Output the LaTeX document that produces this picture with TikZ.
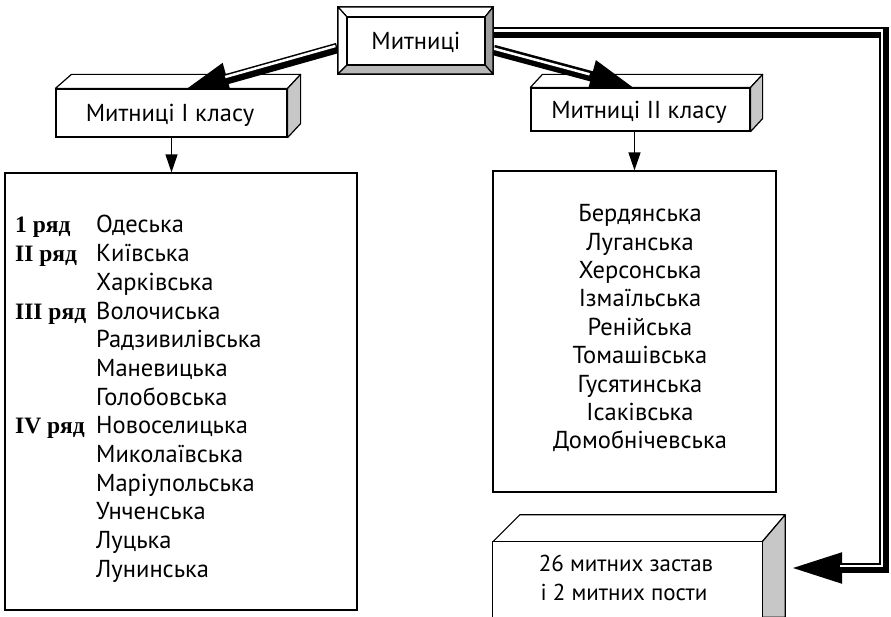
\documentclass[tikz,border=0pt]{standalone}
\usepackage{fontspec}
\setmainfont{PT Sans}
\newfontfamily\lblserif{Liberation Serif}
\usetikzlibrary{arrows.meta,calc}
\pgfdeclarelayer{background}
\pgfdeclarelayer{paper}
\pgfsetlayers{paper,background,main}
\newcommand\txtsz{\fontsize{24.5}{28}\selectfont}
\newcommand\zsz{\fontsize{23}{28}\selectfont}
\newcommand\lblsz{\fontsize{23.5}{28}\selectfont}
\tikzset{
  box/.style={draw, line width=1.2pt, fill=white, inner sep=0pt},
  face/.style={draw, line width=1.2pt, line join=round},
  lbl/.style={font=\txtsz, inner sep=0pt, anchor=base},
  zlbl/.style={font=\zsz, inner sep=0pt, anchor=base},
  rowlbl/.style={font=\lblsz\lblserif\bfseries, inner sep=0pt, anchor=base west},
  rowname/.style={font=\txtsz, inner sep=0pt, anchor=base west},
  thinarrow/.style={line width=1.3pt, -{Triangle[length=18pt,width=12pt]}},
  fat/.style={line width=10.5pt},
  stripe/.style={line width=2.5pt, white, transform canvas={shift={(-2pt,2pt)}}},
}
\begin{document}
\begin{tikzpicture}[x=1pt,y=-1pt]
\useasboundingbox (0,0) rectangle (891,617);
\begin{pgfonlayer}{paper}
\fill[white] (0,0) rectangle (891,617);
\end{pgfonlayer}

% top bevelled box
\node[box, minimum width=155pt, minimum height=67pt] (m) at (415.5,40.5) {};
\filldraw[face, fill=white] (338,7) -- (493,7) -- (485,17) -- (347,17) -- cycle;
\filldraw[face, fill=white] (338,7) -- (347,17) -- (347,65) -- (338,74) -- cycle;
\filldraw[face, fill=black!38] (493,7) -- (485,17) -- (485,65) -- (493,74) -- cycle;
\filldraw[face, fill=black!28] (338,74) -- (347,65) -- (485,65) -- (493,74) -- cycle;
\draw[line width=1.2pt] (347,17) rectangle (485,65);
\node[lbl] (mt) at (416,50) {Митниці};

% class boxes
\node[box, minimum width=231pt, minimum height=48pt] (c1) at (171.5,113) {};
\node[lbl] (c1t) at (170,122) {Митниці І класу};
\node[box, minimum width=219pt, minimum height=43pt] (c2) at (640.5,109.5) {};
\node[lbl] (c2t) at (639,118.5) {Митниці ІІ класу};

% list boxes
\node[box, minimum width=352pt, minimum height=437pt] (l1) at (181,391.5) {};
\node[box, minimum width=283pt, minimum height=321pt] (l2) at (634.5,331.5) {};

% bottom box (cut by the page edge)
\node[fill=white, inner sep=0pt, minimum width=269pt, minimum height=75pt] (z) at (627.5,579.5) {};
\draw[line width=1.2pt] (z.south west) -- (z.north west) -- (z.north east) -- (z.south east);
\node[zlbl] (zt1) at (626,571.5) {26 митних застав};
\node[zlbl] (zt2) at (624,600) {і 2 митних пости};

% list texts
\foreach \a/\b [count=\i] in {{1 ряд}/Одеська,{II ряд}/Київська,/Харківська,{III ряд}/Волочиська,/Радзивилівська,/Маневицька,/Голобовська,{IV ряд}/Новоселицька,/Миколаївська,/Маріупольська,/Унченська,/Луцька,/Лунинська}{
  \node[rowlbl] (ra\i) at (15,{233+(\i-1)*28.67}) {\a};
  \node[rowname] (rb\i) at (96,{233+(\i-1)*28.67}) {\b};
}
\foreach \b [count=\i] in {Бердянська,Луганська,Херсонська,Ізмаїльська,Ренійська,Томашівська,Гусятинська,Ісаківська,Домобнічевська}{
  \node[lbl] (s\i) at (640,{221.7+(\i-1)*28.4}) {\b};
}

% thin arrows
\draw[thinarrow] (c1.south) -- (c1.south |- l1.north);
\draw[thinarrow] (c2.south -| l2.north) -- (l2.north);

\coordinate (t1) at (181,92);
\coordinate (t2) at (635,88);
\coordinate (cr1) at (884,32.5);
\coordinate (cr2) at (884,568);
\coordinate (zt) at (790,568);

\begin{pgfonlayer}{background}
  % 3D faces
  \filldraw[face, fill=white] (c1.north west) -- ++(16,-14) -- ($(c1.north east)+(13,-14)$) -- (c1.north east) -- cycle;
  \filldraw[face, fill=black!22] (c1.north east) -- ++(13,-14) -- ($(c1.south east)+(13,-14)$) -- (c1.south east) -- cycle;
  \filldraw[face, fill=white] (c2.north west) -- ++(12,-13) -- ($(c2.north east)+(12,-13)$) -- (c2.north east) -- cycle;
  \filldraw[face, fill=black!22] (c2.north east) -- ++(12,-13) -- ($(c2.south east)+(12,-13)$) -- (c2.south east) -- cycle;
  \filldraw[face, fill=white] (z.north west) -- ++(27,-27) -- ($(z.north east)+(23,-27)$) -- (z.north east) -- cycle;
  \filldraw[face, fill=black!22] (z.north east) -- ++(23,-27) -- ($(z.south east)+(23,0)$) -- (z.south east) -- cycle;
  % fat arrows
  \draw[fat, -{Triangle[length=48pt,width=30pt]}] ([yshift=-7.5pt]m.west) -- (t1);
  \draw[stripe, shorten >=48pt] ([yshift=-7.5pt]m.west) -- (t1);
  \draw[fat, -{Triangle[length=45pt,width=30pt]}] ([yshift=-9.5pt]m.east) -- (t2);
  \draw[stripe, shorten >=45pt] ([yshift=-9.5pt]m.east) -- (t2);
  \draw[fat, -{Triangle[length=52pt,width=28pt]}] ([yshift=8pt]m.east) -- (cr1) -- (cr2) -- (zt);
  \draw[stripe, shorten >=52pt] ([yshift=8pt]m.east) -- (cr1) -- (cr2) -- (zt);
\end{pgfonlayer}
\end{tikzpicture}
\end{document}
